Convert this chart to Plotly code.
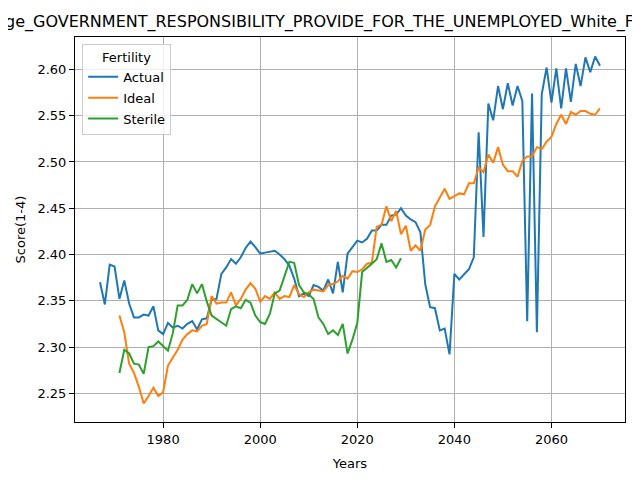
import plotly.graph_objects as go

years_actual = list(range(1967, 2071))
years_ideal = list(range(1971, 2071))
years_sterile = list(range(1971, 2030))

actual = [
    2.370, 2.346, 2.389, 2.387, 2.352, 2.372, 2.347, 2.332, 2.332, 2.335,
    2.334, 2.344, 2.318, 2.314, 2.326, 2.321, 2.323, 2.320, 2.325, 2.328,
    2.319, 2.330, 2.331, 2.351, 2.352, 2.379, 2.386, 2.395, 2.390, 2.397,
    2.407, 2.414, 2.408, 2.401, 2.402, 2.403, 2.404, 2.400, 2.395, 2.388,
    2.374, 2.355, 2.358, 2.355, 2.367, 2.365, 2.361, 2.373, 2.358, 2.392,
    2.359, 2.401, 2.408, 2.415, 2.413, 2.417, 2.426, 2.426, 2.432, 2.432,
    2.442, 2.443, 2.450, 2.442, 2.438, 2.435, 2.424, 2.368, 2.343, 2.342,
    2.318, 2.320, 2.292, 2.379, 2.373, 2.379, 2.384, 2.397, 2.532, 2.419,
    2.563, 2.545, 2.582, 2.557, 2.585, 2.561, 2.582, 2.566, 2.328, 2.574,
    2.316, 2.573, 2.602, 2.564, 2.601, 2.558, 2.601, 2.565, 2.606, 2.582,
    2.613, 2.597, 2.614, 2.604,
]

ideal = [
    2.334, 2.316, 2.282, 2.272, 2.257, 2.239, 2.247, 2.256, 2.247, 2.251,
    2.280, 2.289, 2.297, 2.308, 2.314, 2.318, 2.317, 2.323, 2.325, 2.355,
    2.347, 2.348, 2.348, 2.359, 2.345, 2.352, 2.362, 2.369, 2.363, 2.349,
    2.355, 2.352, 2.359, 2.352, 2.355, 2.354, 2.367, 2.357, 2.354, 2.359,
    2.362, 2.361, 2.360, 2.367, 2.368, 2.371, 2.377, 2.374, 2.382, 2.381,
    2.384, 2.390, 2.391, 2.430, 2.432, 2.452, 2.436, 2.447, 2.422, 2.431,
    2.404, 2.410, 2.404, 2.427, 2.432, 2.452, 2.462, 2.471, 2.460, 2.463,
    2.466, 2.465, 2.477, 2.477, 2.494, 2.489, 2.508, 2.499, 2.516, 2.497,
    2.490, 2.490, 2.484, 2.501, 2.506, 2.506, 2.516, 2.514, 2.522, 2.527,
    2.541, 2.551, 2.541, 2.554, 2.551, 2.555, 2.555, 2.552, 2.551, 2.558,
]

sterile = [
    2.272, 2.297, 2.293, 2.282, 2.281, 2.271, 2.300, 2.301, 2.306, 2.301,
    2.296, 2.315, 2.345, 2.345, 2.351, 2.368, 2.358, 2.368, 2.349, 2.334,
    2.330, 2.326, 2.323, 2.341, 2.344, 2.342, 2.351, 2.348, 2.334, 2.327,
    2.325, 2.336, 2.358, 2.361, 2.377, 2.392, 2.391, 2.367, 2.359, 2.357,
    2.352, 2.332, 2.325, 2.314, 2.318, 2.313, 2.325, 2.293, 2.308, 2.326,
    2.381, 2.385, 2.390, 2.395, 2.412, 2.392, 2.394, 2.386, 2.396,
]

y_ticks = [2.25, 2.30, 2.35, 2.40, 2.45, 2.50, 2.55, 2.60]
x_ticks = [1980, 2000, 2020, 2040, 2060]

fig = go.Figure()

fig.add_trace(go.Scatter(name="Actual", x=years_actual, y=actual, mode="lines",
                         line=dict(color="#1f77b4", width=2), legendgroup="a"))
fig.add_trace(go.Scatter(name="Ideal", x=years_ideal, y=ideal, mode="lines",
                         line=dict(color="#ff7f0e", width=2), legendgroup="b"))
fig.add_trace(go.Scatter(name="Sterile", x=years_sterile, y=sterile, mode="lines",
                         line=dict(color="#2ca02c", width=2), legendgroup="c"))

axis_style = dict(
    showline=True, linecolor="black", linewidth=1, mirror=True,
    showgrid=True, gridcolor="#b0b0b0", gridwidth=0.8,
    ticks="outside", ticklen=5, tickcolor="black",
    tickfont=dict(size=13, color="black"),
    zeroline=False,
)

# page is drawn with an 8px body offset, so margins are shifted to compensate
fig.update_layout(
    width=640, height=480,
    margin=dict(l=67, r=23, t=29, b=66),
    paper_bgcolor="white", plot_bgcolor="white",
    font=dict(family="DejaVu Sans", color="black"),
    title=dict(
        text="Average_GOVERNMENT_RESPONSIBILITY_PROVIDE_FOR_THE_UNEMPLOYED_White_Female",
        x=313 / 640, xanchor="center", xref="container",
        y=1 - 13.5 / 480, yanchor="middle", font=dict(size=16),
    ),
    legend=dict(
        title=dict(text="Fertility", side="top center", font=dict(size=13)),
        x=0.013, y=0.982, xanchor="left", yanchor="top",
        bgcolor="rgba(255,255,255,0.8)", bordercolor="#cccccc", borderwidth=1,
        font=dict(size=13), tracegroupgap=1,
    ),
)

fig.update_xaxes(axis_style, range=[1961.85, 2075.15], tickvals=x_ticks,
                 title=dict(text="Years", font=dict(size=13), standoff=13))
fig.update_yaxes(axis_style, range=[2.219, 2.635], tickvals=y_ticks,
                 tickformat=".2f",
                 title=dict(text="Score(1-4)", font=dict(size=13), standoff=8))

fig.write_html("out.html")
